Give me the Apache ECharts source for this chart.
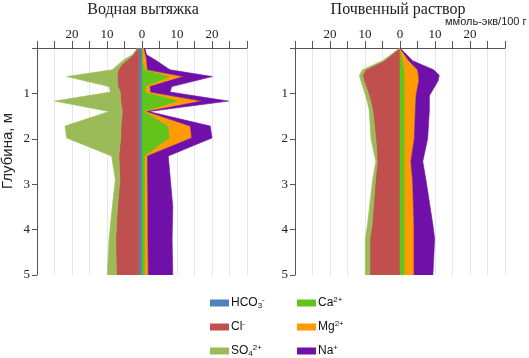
<!DOCTYPE html>
<html><head><meta charset="utf-8">
<script src="https://cdn.jsdelivr.net/npm/echarts@6/dist/echarts.min.js"></script>
<style>html,body{margin:0;padding:0;background:#fff}#c{width:529px;height:358px}</style>
</head><body><div id="c"></div>
<script>
// ---------- DATA ----------
const ionNames = ['HCO3', 'Cl', 'SO4', 'Ca', 'Mg', 'Na'];
const ionColors = ['#4F81BD', '#C0504D', '#9BBB59', '#62C31A', '#FF9A00', '#7010A8'];
const xTickLabels = [20, 10, 0, 10, 20];
const yTickLabels = [1, 2, 3, 4, 5];

// Водная вытяжка (water extract), ммоль-экв/100 г
const depthW = [0, 0.15, 0.25, 0.35, 0.48, 0.63, 0.85, 0.97, 1.17, 1.4, 1.72, 1.98, 2.38, 2.9, 3.5, 4.2, 5.0];
const hco3W  = [1.0, 0.9, 0.9, 0.9, 0.9, 0.9, 0.9, 0.9, 0.9, 0.9, 0.9, 0.9, 0.9, 0.9, 0.9, 0.9, 0.9];
const clW    = [0.2, 1.6, 3.1, 4.7, 5.9, 6.2, 6.0, 5.3, 5.2, 4.7, 5.1, 5.2, 5.7, 5.4, 6.1, 6.6, 6.4];
const so4W   = [0.0, 0.3, 1.0, 1.0, 1.7, 14.4, 2.5, 2.8, 18.8, 3.8, 16.0, 15.4, 2.1, 1.3, 1.5, 1.9, 2.6];
const caW    = [0.3, 0.3, 0.3, 0.4, 1.0, 8.3, 1.2, 1.2, 11.0, 0.8, 7.6, 8.0, 0.9, 0.9, 0.9, 0.9, 0.9];
const mgW    = [0.3, 0.7, 1.0, 1.0, 0.6, 3.6, 1.1, 1.3, 6.1, 0.6, 6.2, 6.2, 0.7, 0.7, 0.8, 0.8, 0.9];
const naW    = [0.2, 0.3, 2.2, 4.1, 6.4, 8.2, 6.2, 5.5, 7.6, 0.5, 5.7, 5.8, 5.9, 6.5, 7.1, 6.9, 7.0];

// Почвенный раствор (soil solution)
const depthS = [0, 0.28, 0.48, 0.6, 0.72, 1.05, 1.36, 2.0, 2.5, 2.9, 3.9, 4.2, 5.0];
const hco3S  = [0, 0, 0, 0, 0, 0, 0, 0, 0, 0, 0, 0, 0];
const clS    = [0, 4.5, 9.8, 10.7, 10.3, 8.8, 7.8, 6.9, 6.5, 7.0, 8.0, 8.6, 8.6];
const so4S   = [0, 0.5, 0.9, 0.9, 0.9, 1.0, 1.0, 1.4, 0.4, 0.8, 1.3, 1.3, 1.3];
const caS    = [0, 0.8, 1.3, 1.4, 1.4, 1.4, 1.4, 1.4, 1.4, 1.4, 1.4, 1.4, 1.4];
const mgS    = [0, 1.7, 3.7, 3.9, 4.0, 3.2, 3.0, 2.7, 1.7, 2.2, 2.6, 2.6, 2.6];
const naS    = [0, 1.1, 4.6, 5.9, 5.5, 3.8, 4.0, 3.8, 3.4, 3.8, 5.4, 5.9, 5.4];

// ---------- BUILD ----------
const panels = [
  { depth: depthW, ions: [hco3W, clW, so4W, caW, mgW, naW] },
  { depth: depthS, ions: [hco3S, clS, so4S, caS, mgS, naS] }
];

function layerSeries(p, depth, inner, outer, name, color) {
  const rows = depth.map((d, i) => [outer[i], d, inner[i]]);
  return {
    type: 'custom', name: name, xAxisIndex: p, yAxisIndex: p,
    itemStyle: { color: color }, silent: true, clip: true,
    encode: { x: 0, y: 1 },
    data: rows,
    renderItem: function (params, api) {
      if (params.dataIndex !== 0) return null;
      const pts = [];
      for (let i = 0; i < rows.length; i++) pts.push(api.coord([rows[i][0], rows[i][1]]));
      for (let i = rows.length - 1; i >= 0; i--) pts.push(api.coord([rows[i][2], rows[i][1]]));
      return { type: 'polygon', shape: { points: pts }, style: { fill: color, stroke: color, lineWidth: 0.6 } };
    }
  };
}

const series = [];
panels.forEach((pn, p) => {
  // anions to the left (negative), cations to the right
  [[0, 1, 2, -1], [3, 4, 5, 1]].forEach(group => {
    const sign = group[3];
    let cum = pn.depth.map(() => 0);
    for (let k = 0; k < 3; k++) {
      const idx = group[k];
      const vals = pn.ions[idx];
      const inner = cum.map(v => sign * v);
      const next = cum.map((v, i) => v + vals[i]);
      const outer = next.map(v => sign * v);
      series.push(layerSeries(p, pn.depth, inner, outer, ionNames[idx], ionColors[idx]));
      cum = next;
    }
  });
});

const serif = '"Liberation Serif", "DejaVu Serif", serif';
const sans = '"Liberation Sans", Arial, sans-serif';

function xAxisCfg(i) {
  return {
    gridIndex: i, type: 'value', position: 'top', min: -30, max: 30, interval: 5,
    axisLine: { show: true, onZero: false, lineStyle: { color: '#555', width: 1 } },
    axisTick: { show: true, length: 7, lineStyle: { color: '#555' } },
    axisLabel: {
      margin: 7, fontFamily: serif, fontSize: 13, color: '#222',
      formatter: v => (xTickLabels.indexOf(Math.abs(v)) >= 0 && v % 10 === 0) ? String(Math.abs(v)) : ''
    },
    splitLine: { show: true, lineStyle: { color: '#e6e6e6', width: 1 } }
  };
}
function yAxisCfg(i) {
  return {
    gridIndex: i, type: 'value', inverse: true, min: 0, max: 5, interval: 1,
    axisLine: { show: true, onZero: false, lineStyle: { color: '#555', width: 1 } },
    axisTick: { show: true, length: 5, lineStyle: { color: '#555' } },
    axisLabel: {
      margin: 7, fontFamily: serif, fontSize: 13, color: '#222',
      formatter: v => yTickLabels.indexOf(v) >= 0 ? String(v) : ''
    },
    splitLine: { show: false }
  };
}

const richLegend = {
  b: { fontFamily: sans, fontSize: 12, color: '#111', lineHeight: 14 },
  sub: { fontFamily: sans, fontSize: 8, color: '#111', lineHeight: 8, verticalAlign: 'bottom' },
  sup: { fontFamily: sans, fontSize: 8, color: '#111', lineHeight: 8, verticalAlign: 'top' }
};
const legendLabels = {
  HCO3: '{b|HCO}{sub|3}{sup|-}',
  Cl: '{b|Cl}{sup|-}',
  SO4: '{b|SO}{sub|4}{sup|2+}',
  Ca: '{b|Ca}{sup|2+}',
  Mg: '{b|Mg}{sup|2+}',
  Na: '{b|Na}{sup|+}'
};
const legendRowTops = [296, 320, 344];
const legends = [];
ionNames.forEach((n, i) => {
  legends.push({
    orient: 'vertical', left: i < 3 ? 210 : 297, top: legendRowTops[i % 3], icon: 'rect',
    itemWidth: 19, itemHeight: 7, itemGap: 0, selectedMode: false, padding: 0,
    data: [{ name: n, itemStyle: { color: ionColors[i] } }],
    formatter: nm => legendLabels[nm],
    textStyle: { fontFamily: sans, fontSize: 12, color: '#111', lineHeight: 14, rich: richLegend, padding: [0, 0, 0, -3] }
  });
});

const option = {
  animation: false,
  backgroundColor: '#fff',
  grid: [
    { left: 37, top: 48, width: 210, height: 227, outerBoundsMode: 'none', containLabel: false },
    { left: 295, top: 48, width: 210, height: 227, outerBoundsMode: 'none', containLabel: false }
  ],
  xAxis: [xAxisCfg(0), xAxisCfg(1)],
  yAxis: [yAxisCfg(0), yAxisCfg(1)],
  legend: legends,
  graphic: [
    { type: 'text', x: 143, y: 10, silent: true,
      style: { text: 'Водная вытяжка', font: '16px ' + serif, fill: '#222', align: 'center', verticalAlign: 'middle' } },
    { type: 'text', x: 398, y: 10, silent: true,
      style: { text: 'Почвенный раствор', font: '16px ' + serif, fill: '#222', align: 'center', verticalAlign: 'middle' } },
    { type: 'text', x: 445, y: 22, silent: true,
      style: { text: 'ммоль-экв/100 г', font: '11px ' + sans, fill: '#222', align: 'left', verticalAlign: 'middle' } },
    { type: 'text', x: 8, y: 151, rotation: Math.PI / 2, silent: true,
      style: { text: 'Глубина, м', font: '15px ' + sans, fill: '#222', align: 'center', verticalAlign: 'middle' } }
  ],
  series: series
};

const chart = echarts.init(document.getElementById('c'), null, { renderer: 'canvas' });
chart.setOption(option);
</script>
</body></html>
